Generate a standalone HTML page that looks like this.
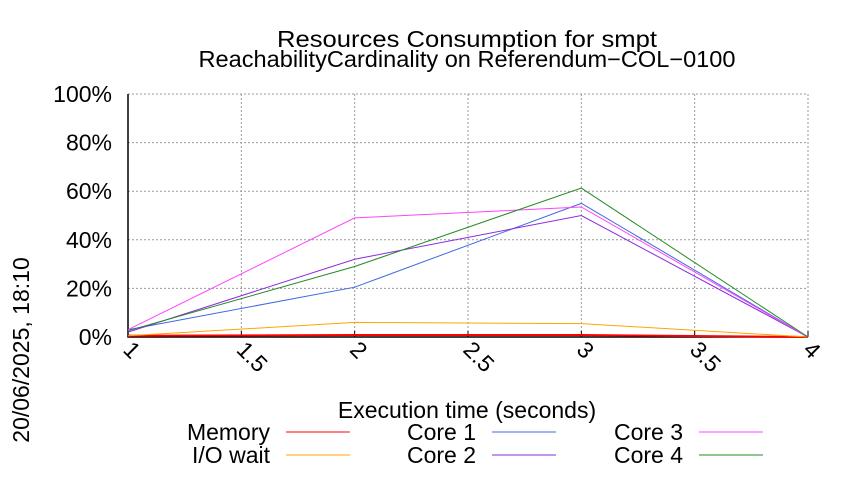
<!DOCTYPE html>
<html><head><meta charset="utf-8"><style>
body{margin:0;background:#fff}
svg text{font-family:"Liberation Sans",sans-serif;fill:#000}
</style></head><body>
<svg width="850" height="475" xmlns="http://www.w3.org/2000/svg">
<text x="467" y="47" font-size="23" text-anchor="middle" textLength="380" lengthAdjust="spacingAndGlyphs">Resources Consumption for smpt</text>
<text x="467" y="67" font-size="23" text-anchor="middle" textLength="537" lengthAdjust="spacingAndGlyphs">ReachabilityCardinality on Referendum−COL−0100</text>
<text transform="translate(29,350) rotate(-90)" font-size="23" text-anchor="middle">20/06/2025, 18:10</text>
<g id="grid"></g>
<g id="axes"></g>
<g id="series"></g>
<text x="467" y="418" font-size="23" text-anchor="middle">Execution time (seconds)</text>
<g id="legend"></g>
</svg>
<script>
const xTicks=[1,1.5,2,2.5,3,3.5,4];
const xTickLabels=["1","1.5","2","2.5","3","3.5","4"];
const yTicks=[0,20,40,60,80,100];
const yTickLabels=["0%","20%","40%","60%","80%","100%"];
const times=[1,2,3,4];
const memory=[0.5,0.8,0.8,0];
const ioWait=[0.5,6,5.5,0];
const core1=[3,20.5,55,0];
const core2=[2,32,50,0];
const core3=[3,49,53.5,0];
const core4=[2.6,29,61.3,0];
const seriesNames=["Memory","I/O wait","Core 1","Core 2","Core 3","Core 4"];
const seriesData=[memory,ioWait,core1,core2,core3,core4];
const colors=["#ff0000","#ffa500","#4169e1","#8a2be2","#ff44ff","#228b22"];
const L=128,R=808,T=94,B=337;
const sx=v=>L+(v-1)/3*(R-L), sy=v=>B-v/100*(B-T);
const NS="http://www.w3.org/2000/svg";
function mk(tag,attrs,parent,txt){const e=document.createElementNS(NS,tag);for(const k in attrs)e.setAttribute(k,attrs[k]);if(txt!==undefined)e.textContent=txt;parent.appendChild(e);return e;}
const grid=document.getElementById('grid'),axes=document.getElementById('axes'),ser=document.getElementById('series'),leg=document.getElementById('legend');
xTicks.forEach((t,i)=>{
 const x=sx(t);
 const g=mk('line',{x1:x,y1:T,x2:x,y2:B,stroke:'#999','stroke-dasharray':'2,2','stroke-width':1},grid);
 
 
 const tk=mk('line',{x1:x,y1:B,x2:x,y2:B-6,stroke:'#000'},axes);
 
 
 const lb=mk('text',{transform:`translate(${x-6},${B+14}) rotate(45)`,'font-size':23},axes,xTickLabels[i]);
 
 
});
yTicks.forEach((t,i)=>{
 const y=sy(t);
 const g=mk('line',{x1:L,y1:y,x2:R,y2:y,stroke:'#999','stroke-dasharray':'2,2','stroke-width':1},grid);
 
 
 const lb=mk('text',{x:112,y:y+8,'font-size':23,'text-anchor':'end'},axes,yTickLabels[i]);
 
 
});
const ax=mk('path',{d:`M${L},${T}V${B}H${R}`,fill:'none',stroke:'#000','stroke-width':1.5},axes);


seriesData.forEach((d,i)=>{
 const p=mk('polyline',{points:d.map((v,j)=>sx(times[j])+','+sy(v)).join(' '),fill:'none',stroke:colors[i],'stroke-width':i===0?2:1},ser);
 
 
});
const lx=[270,270,476,476,683,683],ly=[432,455,432,455,432,455];
seriesNames.forEach((n,i)=>{
 const t=mk('text',{x:lx[i],y:ly[i]+8,'font-size':23,'text-anchor':'end'},leg,n);
 
 
 const l=mk('line',{x1:lx[i]+16,y1:ly[i],x2:lx[i]+80,y2:ly[i],stroke:colors[i],'stroke-width':1},leg);
 
 
});
</script>
</body></html>
